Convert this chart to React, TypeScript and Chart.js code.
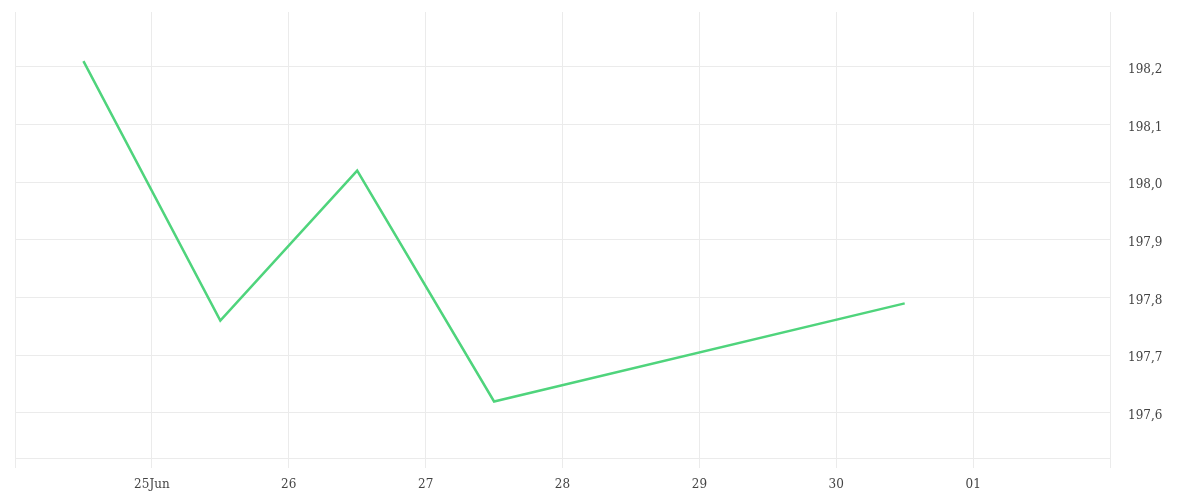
import React, { useEffect, useRef } from "react";
import { Chart, registerables } from "chart.js";

Chart.register(...registerables);

// x positions in days from the left edge of the axis (0 = 24 Jun 00:00)
const dayPositions = [0.5, 1.5, 2.5, 3.5, 6.5];
const prices = [198.21, 197.76, 198.02, 197.62, 197.79];
const xTickLabels = ["", "25Jun", "26", "27", "28", "29", "30", "01", ""];
const yTickValues = [197.6, 197.7, 197.8, 197.9, 198.0, 198.1, 198.2];

const FONT = "'DejaVu Serif', serif";

export default function App() {
  const ref = useRef<HTMLCanvasElement | null>(null);

  useEffect(() => {
    const canvas = ref.current;
    if (!canvas) return;
    const chart = new Chart(canvas, {
      type: "line",
      data: {
        datasets: [
          {
            data: dayPositions.map((x, i) => ({ x, y: prices[i] })),
            borderColor: "#4fd47c",
            borderWidth: 2.5,
            pointRadius: 0,
            tension: 0,
            fill: false,
          },
        ],
      },
      options: {
        animation: false,
        responsive: true,
        maintainAspectRatio: false,
        layout: { padding: { left: 15, top: 12, right: 0, bottom: 0 } },
        plugins: { legend: { display: false }, tooltip: { enabled: false } },
        scales: {
          x: {
            type: "linear",
            min: 0,
            max: 8,
            afterBuildTicks: (s: any) => {
              s.ticks = xTickLabels.map((_, i) => ({ value: i }));
            },
            afterFit: (s: any) => {
              s.height = 42;
            },
            ticks: {
              autoSkip: false,
              maxRotation: 0,
              padding: 10,
              color: "#444",
              font: { family: FONT, size: 12 },
              callback: (v: any) => xTickLabels[Number(v)] ?? "",
            },
            grid: { color: "#ebebeb", lineWidth: 1, tickLength: 10, drawTicks: true },
            border: { color: "#ebebeb" },
          },
          y: {
            position: "right",
            min: 197.522,
            max: 198.295,
            afterBuildTicks: (s: any) => {
              s.ticks = yTickValues.map((v) => ({ value: v }));
            },
            afterFit: (s: any) => {
              s.width = 90;
              s.paddingTop = 0;
              s.paddingBottom = 0;
            },
            ticks: {
              padding: 18,
              labelOffset: 3,
              color: "#444",
              font: { family: FONT, size: 12 },
              callback: (v: any) => Number(v).toFixed(1).replace(".", ","),
            },
            grid: { color: "#ebebeb", lineWidth: 1, drawTicks: false },
            border: { color: "#ebebeb" },
          },
        },
      },
    });
    return () => chart.destroy();
  }, []);

  return (
    <div style={{ position: "fixed", left: 0, top: 0, width: 1200, height: 500, background: "#fff" }}>
      <canvas ref={ref} />
    </div>
  );
}
